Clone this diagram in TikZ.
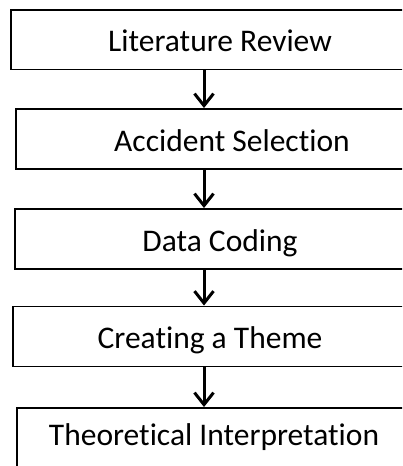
\documentclass[tikz,border=0pt]{standalone}
\usepackage{fontspec}
\setmainfont{Carlito}[Ligatures={NoCommon}]
\usetikzlibrary{arrows.meta}
\tikzset{
  stage/.style={draw=black, line width=1.9pt, rectangle, inner sep=0pt,
    minimum height=60pt, text height=24pt, text depth=0pt,
    font=\fontsize{31.5}{34}\selectfont},
  flowarrow/.style={line width=3pt,
    -{Straight Barb[length=12pt, width=19pt, line width=3pt]}}
}
\begin{document}
\begin{tikzpicture}[x=1pt, y=-1pt]
  \useasboundingbox (0,0) rectangle (402,466);
  \clip (0,0) rectangle (402,466);
  \fill[white] (0,0) rectangle (402,466);

  % process stages (wide boxes run past the right edge)
  \node[stage, minimum width=418pt, minimum height=59.5pt] (lit) at (220,39.75) {Literature Review};
  \node[stage, minimum width=432pt] (acc) at (232,139) {Accident Selection};
  \node[stage, minimum width=410pt] (cod) at (220,239) {Data Coding};
  \node[stage, minimum width=394pt] (thm) at (210,336.5) {Creating a Theme};
  \node[stage, minimum width=394pt, minimum height=70pt, text depth=20pt] (thy) at (214,443) {Theoretical Interpretation};

  % common axis of the arrows
  \coordinate (axis) at (204,0);

  \draw[flowarrow] (lit.south -| axis) -- (acc.north -| axis);
  \draw[flowarrow] (acc.south -| axis) -- (cod.north -| axis);
  \draw[flowarrow] (cod.south -| axis) -- (thm.north -| axis);
  \draw[flowarrow] (thm.south -| axis) -- (thy.north -| axis);
\end{tikzpicture}
\end{document}
